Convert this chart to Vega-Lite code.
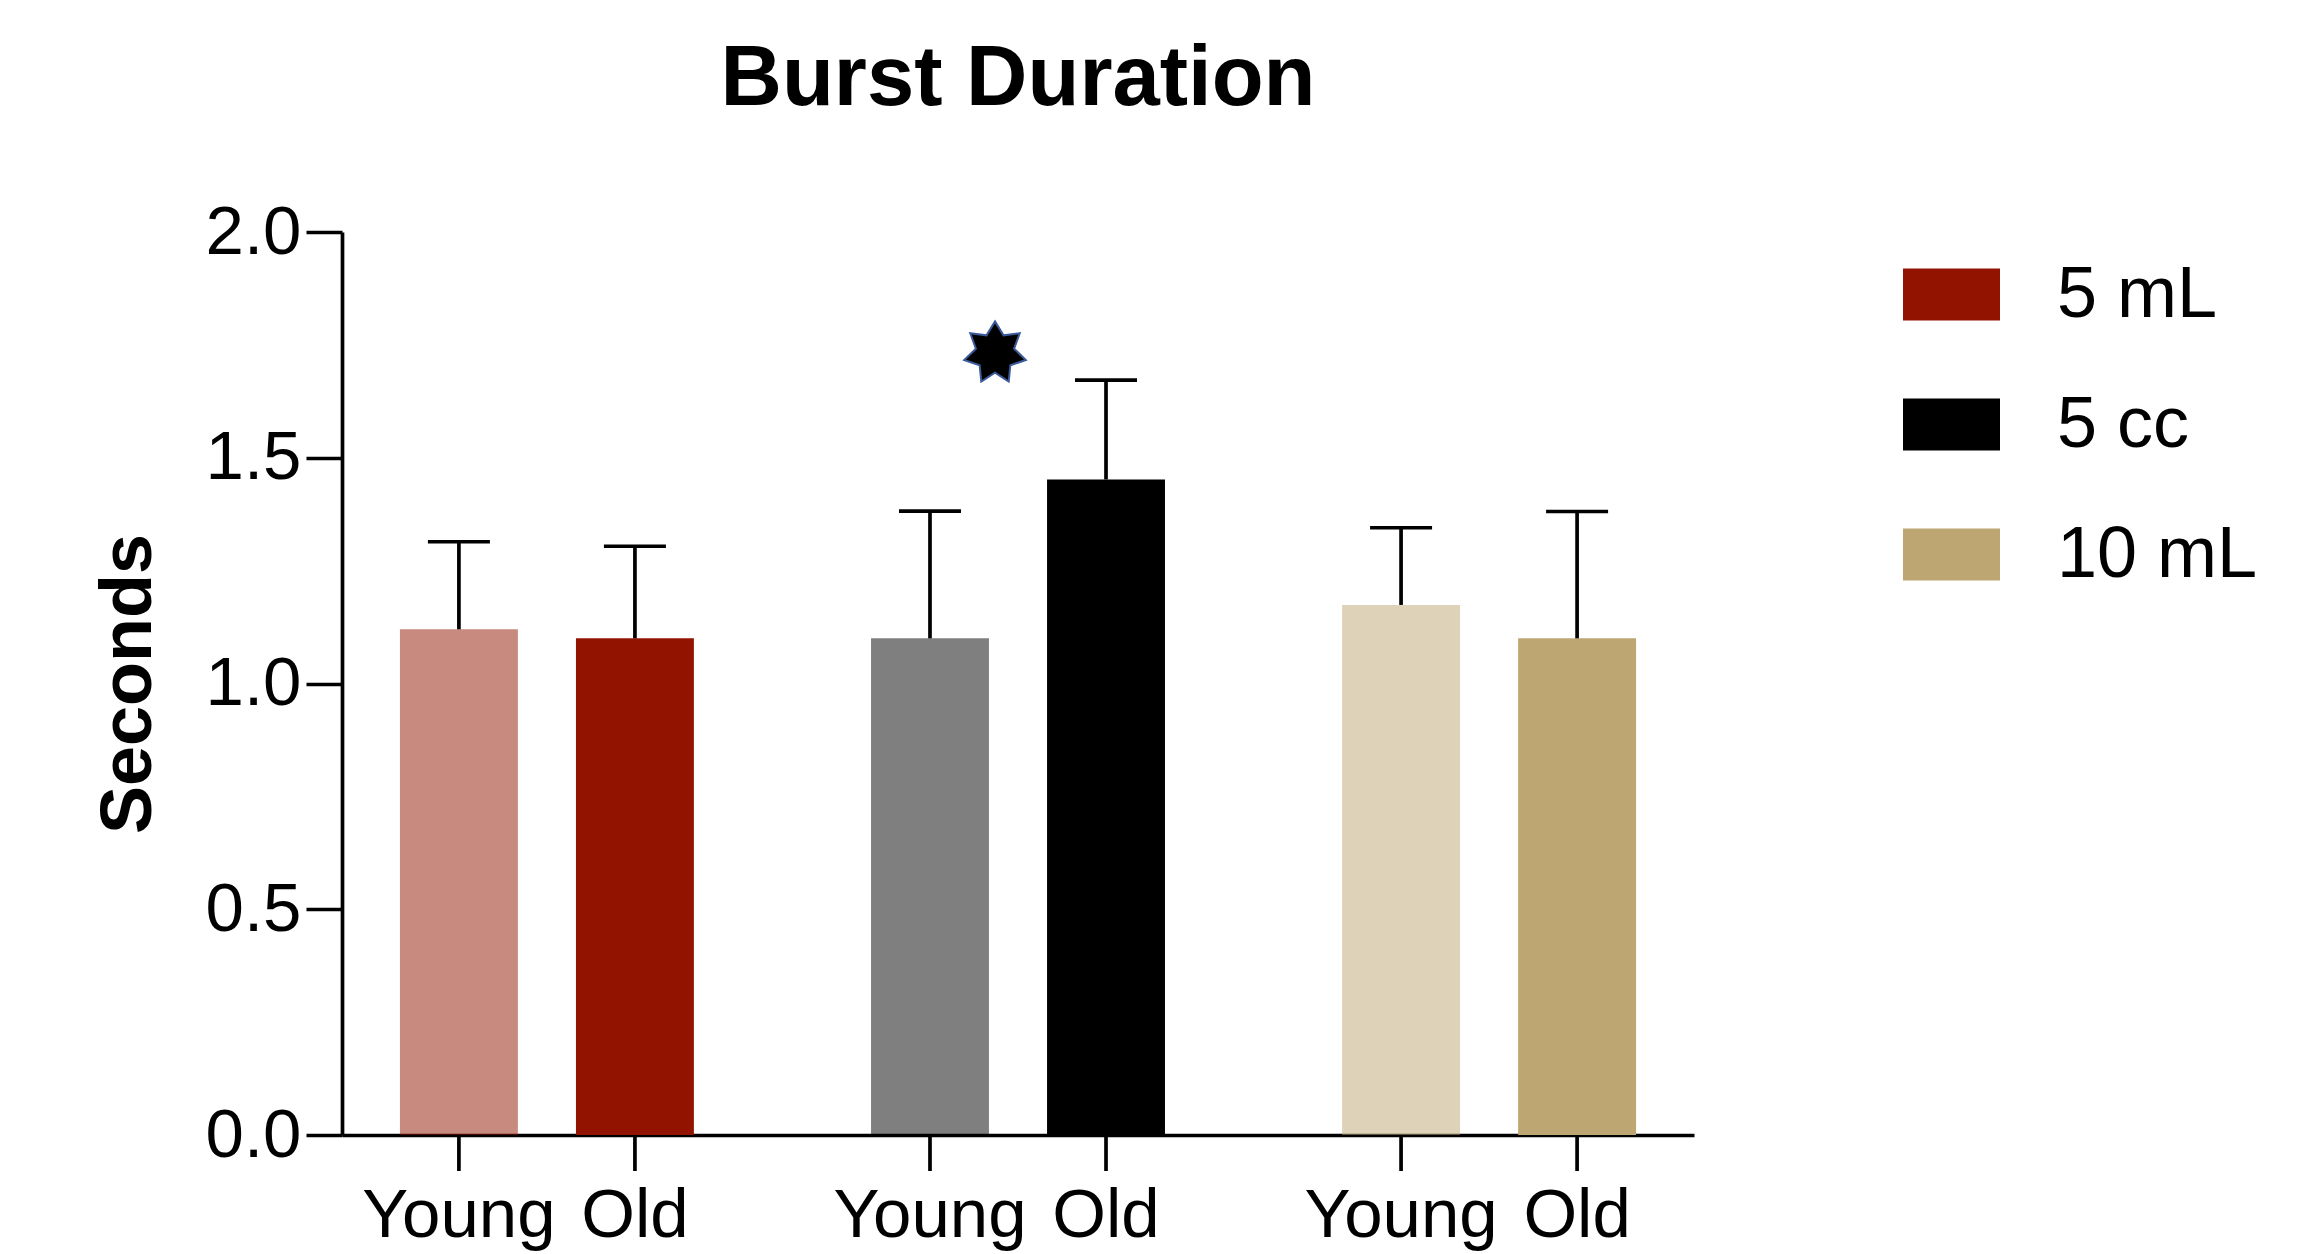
{
  "$schema": "https://vega.github.io/schema/vega-lite/v6.json",
  "width": 1352,
  "height": 903,
  "autosize": {"type": "none"},
  "padding": {"left": 342, "top": 232, "right": 630, "bottom": 119},
  "background": "white",
  "title": {"text": "Burst Duration", "fontSize": 85, "font": "Liberation Sans", "fontWeight": "bold", "anchor": "middle", "baseline": "alphabetic", "offset": 8, "color": "black"},
  "datasets": {
    "bars": [
      {"dose": "5 mL", "age": "Young", "seconds": 1.12, "upper": 1.314},
      {"dose": "5 mL", "age": "Old", "seconds": 1.10, "upper": 1.304},
      {"dose": "5 cc", "age": "Young", "seconds": 1.10, "upper": 1.382},
      {"dose": "5 cc", "age": "Old", "seconds": 1.452, "upper": 1.672},
      {"dose": "10 mL", "age": "Young", "seconds": 1.174, "upper": 1.345},
      {"dose": "10 mL", "age": "Old", "seconds": 1.10, "upper": 1.381}
    ],
    "star": [{"dose": "5 cc", "seconds": 1.732}]
  },
  "layer": [
    {
      "data": {"name": "bars"},
      "mark": {"type": "bar"},
      "encoding": {
        "x": {"field": "dose", "type": "nominal", "sort": null,
              "scale": {"domain": ["5 mL", "5 cc", "10 mL"], "paddingInner": 0.376, "paddingOuter": 0.123},
              "axis": {"title": null, "labels": false, "ticks": false, "domain": true, "domainColor": "black", "domainWidth": 3.7, "grid": false}},
        "xOffset": {"field": "age", "type": "nominal", "sort": null,
                    "scale": {"domain": ["Young", "Old"], "paddingInner": 0.33, "paddingOuter": 0}},
        "y": {"field": "seconds", "type": "quantitative",
              "scale": {"domain": [0, 2], "nice": false, "zero": true},
              "axis": {"title": "Seconds", "titleFontSize": 72, "titleFont": "Liberation Sans", "titleFontWeight": "bold", "titleColor": "black",
                       "titleX": -192, "titleBaseline": "alphabetic", "titleAngle": -90,
                       "values": [0, 0.5, 1, 1.5, 2], "format": ".1f",
                       "labelFontSize": 69, "labelFont": "Liberation Sans", "labelColor": "black", "labelPadding": 5,
                       "tickSize": 36, "tickWidth": 3.7, "tickColor": "black", "domainColor": "black", "domainWidth": 3.7, "grid": false}},
        "color": {"field": "dose", "type": "nominal",
                  "scale": {"domain": ["5 mL", "5 cc", "10 mL"], "range": ["#921300", "#000000", "#BEA673"]},
                  "legend": {"title": null, "orient": "none", "direction": "vertical", "legendX": 1561, "legendY": 14,
                             "symbolType": "M-1,-0.536H1V0.536H-1Z", "symbolSize": 9409, "symbolStrokeWidth": 0, "symbolOpacity": 1,
                             "labelFontSize": 72, "labelFont": "Liberation Sans", "labelColor": "black", "labelOffset": 57, "labelLimit": 0,
                             "rowPadding": 45}},
        "opacity": {"field": "age", "type": "nominal", "scale": {"domain": ["Young", "Old"], "range": [0.5, 1]}, "legend": null}
      }
    },
    {
      "data": {"name": "bars"},
      "mark": {"type": "rule", "color": "black", "strokeWidth": 3.7},
      "encoding": {
        "x": {"field": "dose", "type": "nominal", "sort": null},
        "xOffset": {"field": "age", "type": "nominal", "sort": null},
        "y": {"field": "seconds", "type": "quantitative"},
        "y2": {"field": "upper"}
      }
    },
    {
      "data": {"name": "bars"},
      "mark": {"type": "tick", "color": "black", "orient": "horizontal", "size": 62, "thickness": 3.7, "opacity": 1},
      "encoding": {
        "x": {"field": "dose", "type": "nominal", "sort": null},
        "xOffset": {"field": "age", "type": "nominal", "sort": null},
        "y": {"field": "upper", "type": "quantitative"}
      }
    },
    {
      "data": {"name": "bars"},
      "mark": {"type": "tick", "color": "black", "orient": "vertical", "size": 36, "thickness": 3.7, "yOffset": 18, "opacity": 1},
      "encoding": {
        "x": {"field": "dose", "type": "nominal", "sort": null},
        "xOffset": {"field": "age", "type": "nominal", "sort": null},
        "y": {"datum": 0, "type": "quantitative"}
      }
    },
    {
      "data": {"name": "bars"},
      "mark": {"type": "text", "color": "black", "fontSize": 69, "font": "Liberation Sans", "baseline": "alphabetic", "align": "center", "dy": 102},
      "encoding": {
        "x": {"field": "dose", "type": "nominal", "sort": null},
        "xOffset": {"field": "age", "type": "nominal", "sort": null},
        "y": {"datum": 0, "type": "quantitative"},
        "text": {"field": "age"}
      }
    },
    {
      "data": {"name": "star"},
      "mark": {"type": "point", "filled": true, "fill": "black", "stroke": "#3A5A99", "strokeWidth": 2, "opacity": 1, "size": 4000, "xOffset": -23,
               "shape": "M0,-1L0.269,-0.559L0.782,-0.623L0.604,-0.138L0.975,0.223L0.485,0.387L0.434,0.901L0,0.62L-0.434,0.901L-0.485,0.387L-0.975,0.223L-0.604,-0.138L-0.782,-0.623L-0.269,-0.559Z"},
      "encoding": {
        "x": {"field": "dose", "type": "nominal", "sort": null},
        "y": {"field": "seconds", "type": "quantitative"}
      }
    }
  ],
  "config": {
    "view": {"stroke": null},
    "font": "Liberation Sans"
  }
}
